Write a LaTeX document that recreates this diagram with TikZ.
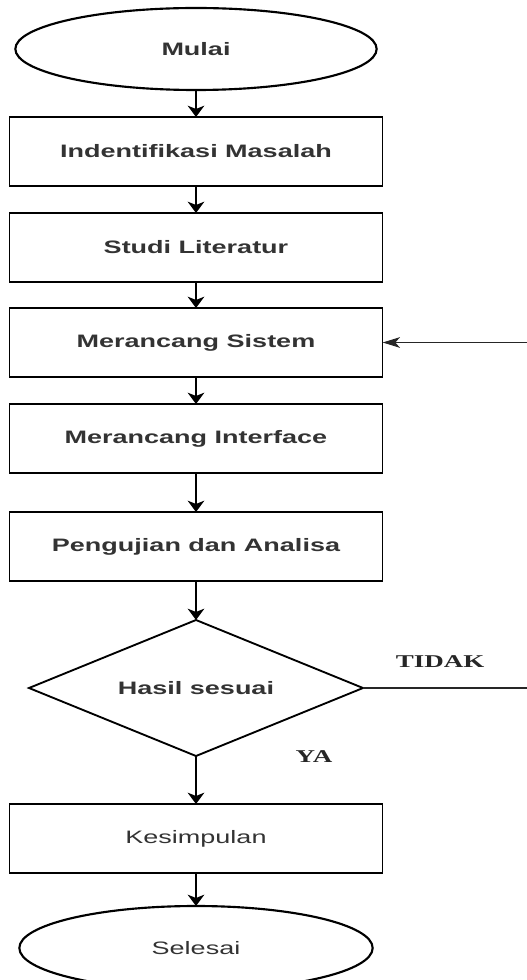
\documentclass[tikz,border=0pt]{standalone}
\usepackage{fontspec}
\setmainfont{Liberation Sans}[FakeStretch=1.5]
\newfontfamily\labelfont{Liberation Serif}[FakeStretch=1.5]
\usetikzlibrary{arrows.meta,positioning,shapes.geometric}
\newcommand{\flowfont}{\fontsize{13.5}{16}\selectfont}
\tikzset{
  flowarr/.style={-{Stealth[length=8.5pt,width=12.5pt,inset=2.5pt]}, line width=1.1pt},
  sidearr/.style={-{Stealth[length=13pt,width=8pt,inset=3.5pt]}, line width=0.9pt, draw=black!85},
  flowbox/.style={draw, line width=1.1pt, minimum width=280pt, minimum height=51.75pt, inner sep=0pt, outer sep=0pt, font=\flowfont\bfseries},
  termnode/.style={draw, ellipse, line width=1.6pt, inner sep=0pt, outer sep=0pt},
}

\begin{document}
\begin{tikzpicture}[
  x=0.75pt, y=-0.75pt,
  text=black!80,
  node distance=20.25pt,
  decide/.style={draw, diamond, shape aspect=2.456, line width=1.4pt, minimum width=250.5pt, minimum height=102pt, inner sep=0pt, outer sep=0pt, font=\flowfont\bfseries},
  answer/.style={font=\flowfont\labelfont\bfseries, text=black!85},
]
  \useasboundingbox (0,0) rectangle (526,980);
  \node[termnode, minimum width=271pt, minimum height=61.5pt, font=\flowfont\bfseries] (mulai) at (196,49) {Mulai};
  \node[flowbox, below=of mulai] (identifikasi) {Indentifikasi Masalah};
  \node[flowbox, below=of identifikasi] (studi) {Studi Literatur};
  \node[flowbox, below=19.5pt of studi] (sistem) {Merancang Sistem};
  \node[flowbox, below=of sistem] (interface) {Merancang Interface};
  \node[flowbox, below=29.25pt of interface] (pengujian) {Pengujian dan Analisa};
  \node[decide, below=29.25pt of pengujian] (hasil) {Hasil sesuai};
  \node[flowbox, font=\flowfont, below=36pt of hasil] (kesimpulan) {Kesimpulan};
  \node[termnode, minimum width=265pt, minimum height=63pt, font=\flowfont, below=24.75pt of kesimpulan] (selesai) {Selesai};
  \foreach \a/\b in {mulai/identifikasi,identifikasi/studi,studi/sistem,sistem/interface,interface/pengujian,pengujian/hasil,hasil/kesimpulan,kesimpulan/selesai}
    \draw[flowarr] (\a) -- (\b);
  % back to Merancang Sistem when the result does not fit
  \coordinate (edge) at (528,0);
  \draw[sidearr] (hasil.east) -- (hasil.east -| edge) |- (sistem.east);
  \node[answer] (tidak) at (440,662) {TIDAK};
  \node[answer] (ya) at (314,757) {YA};
\end{tikzpicture}
\end{document}
